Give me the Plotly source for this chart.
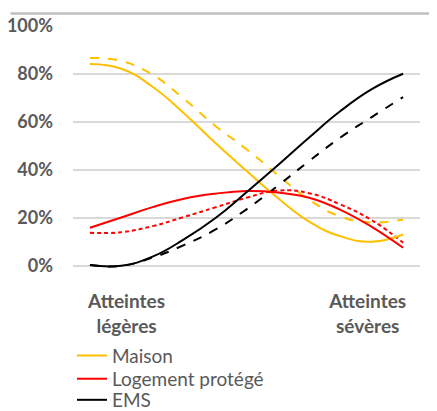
import plotly.graph_objects as go

# positions along the severity axis (0 = atteintes légères, 1 = atteintes sévères)
x_pos = [0.0, 0.1, 0.2, 0.3, 0.4, 0.5, 0.6, 0.7, 0.8, 0.9, 1.0]

maison = [84, 82.0, 74.5, 63.5, 51.2, 39.5, 28.2, 18.4, 12.3, 10, 13]
maison_dash = [86.5, 85.2, 79.5, 69.5, 58.3, 48.5, 37.8, 27.5, 20.5, 18, 19.3]
logement = [15.8, 20.1, 24.4, 27.9, 30, 31.1, 30.5, 28.3, 23.3, 16.2, 7.5]
logement_dash = [13.7, 14.0, 16.5, 20.3, 24.3, 28.3, 31.3, 30.2, 25.5, 19, 9.6]
ems = [0.3, 0, 3.8, 11, 19.8, 30.6, 41.8, 53.4, 64.4, 73.5, 79.9]
ems_dash = [0.3, 0, 3.4, 8.6, 15.0, 23.5, 33.3, 43.6, 53.4, 61.9, 70.2]

y_ticks = [0, 20, 40, 60, 80, 100]
y_ticktext = ["0%", "20%", "40%", "60%", "80%", "100%"]
x_tickvals = [0.117, 0.887]
x_ticktext = ["Atteintes<br>légères", "Atteintes<br>sévères"]

YELLOW = "#FFC000"
RED = "#FF0000"
BLACK = "#000000"
GREY = "#595959"

fig = go.Figure()

dashed = [
    ("Maison (2)", maison_dash, YELLOW, "dash"),
    ("Logement protégé (2)", logement_dash, RED, "4px,3px"),
    ("EMS (2)", ems_dash, BLACK, "dash"),
]
solid = [
    ("Maison", maison, YELLOW, "legend"),
    ("Logement protégé", logement, RED, "legend2"),
    ("EMS", ems, BLACK, "legend3"),
]
for name, vals, col, dash in dashed:
    fig.add_trace(go.Scatter(
        x=x_pos, y=vals, mode="lines", name=name, showlegend=False,
        line=dict(color=col, width=2, dash=dash, shape="spline", smoothing=1.3),
        hoverinfo="skip",
    ))
for name, vals, col, leg in solid:
    fig.add_trace(go.Scatter(
        x=x_pos, y=vals, mode="lines", name=name, showlegend=True, legend=leg,
        line=dict(color=col, width=2, shape="spline", smoothing=1.3),
        hoverinfo="skip",
    ))

leg_common = dict(x=-0.003, xanchor="left", yanchor="middle",
                  font=dict(size=19, color=GREY, family="Lato"),
                  bgcolor="rgba(0,0,0,0)", itemwidth=30)

fig.update_layout(
    width=429, height=403,
    margin=dict(l=65, r=17, t=17, b=138, autoexpand=False),
    paper_bgcolor="white", plot_bgcolor="white",
    font=dict(family="Lato", color=GREY),
    legend=dict(y=-0.333, **leg_common),
    legend2=dict(y=-0.427, **leg_common),
    legend3=dict(y=-0.512, **leg_common),
    xaxis=dict(
        range=[-0.054, 1.054], showgrid=False, zeroline=False, showline=False,
        tickvals=x_tickvals, ticktext=x_ticktext, ticks="",
        tickfont=dict(size=19, family="Lato", color=GREY, weight="bold"),
        ticklabelstandoff=15,
    ),
    yaxis=dict(
        range=[-3, 100.2], tickvals=y_ticks, ticktext=y_ticktext,
        showgrid=True, gridcolor="#D9D9D9", gridwidth=1.5,
        zeroline=False, showline=False, ticks="",
        tickfont=dict(size=18, family="Lato", color=GREY, weight="bold"),
        ticklabelstandoff=19,
    ),
    shapes=[dict(type="line", xref="paper", yref="paper",
                 x0=-0.18, x1=1.04, y0=1.046, y1=1.046,
                 line=dict(color="#BFBFBF", width=2.5))],
)

fig.write_html("out.html")
